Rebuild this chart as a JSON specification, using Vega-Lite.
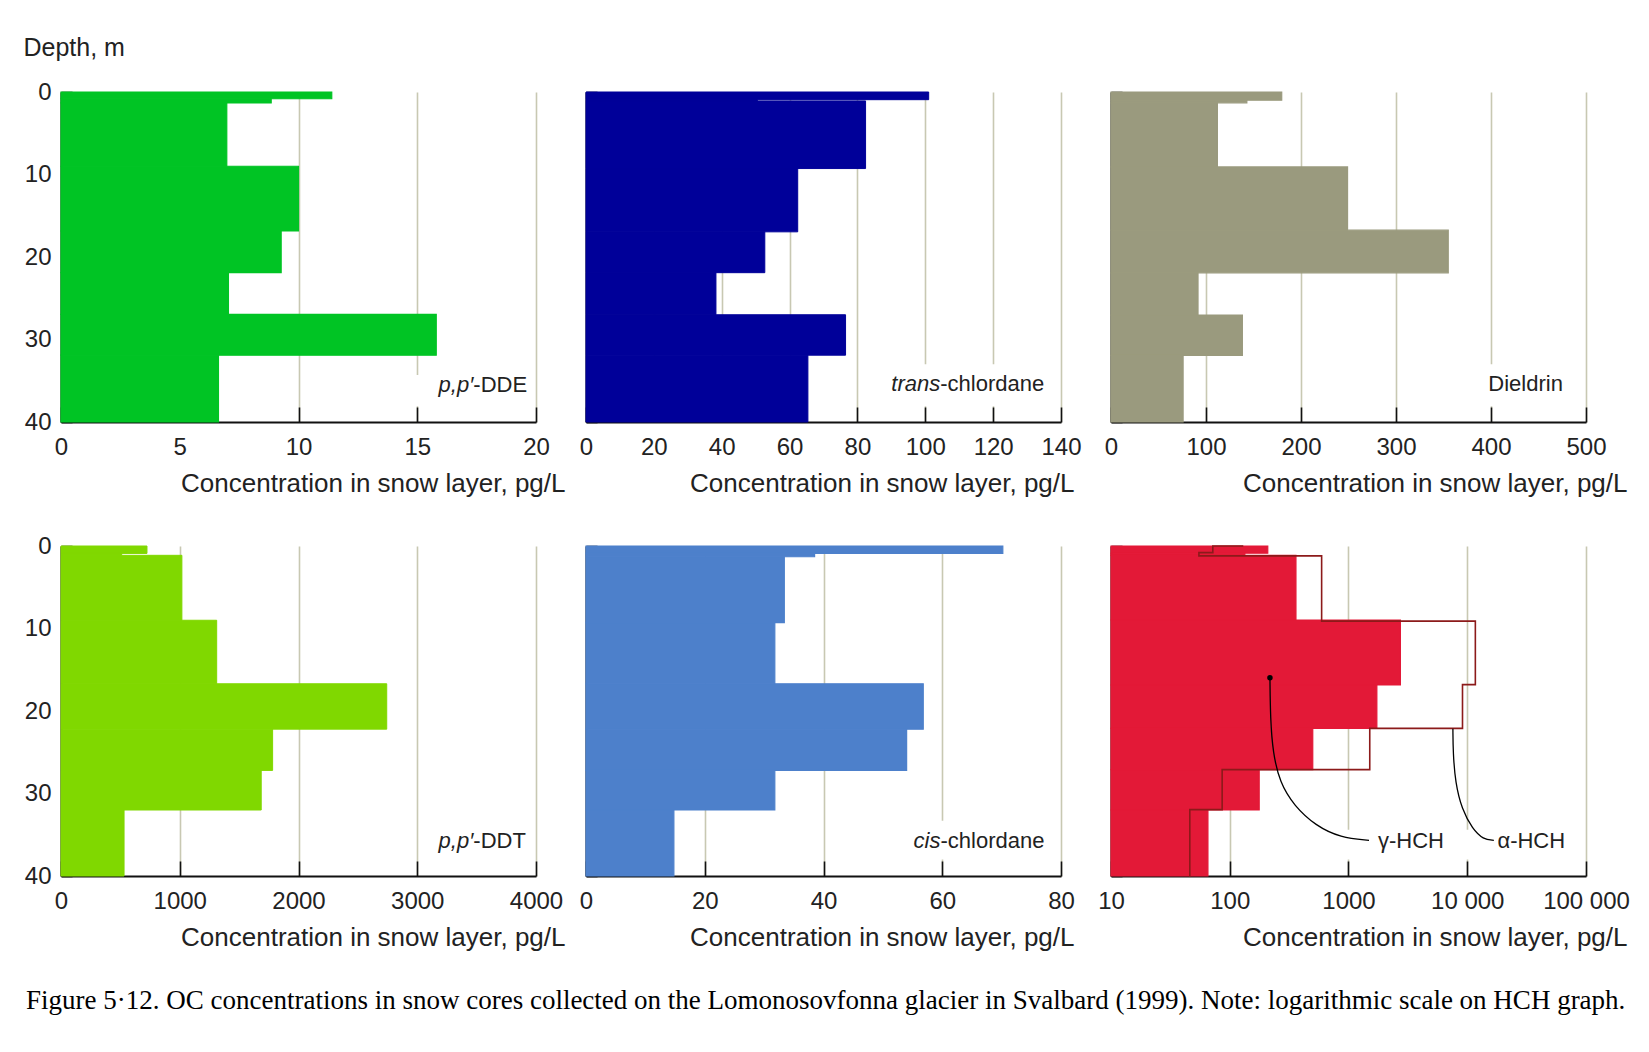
{
  "$schema": "https://vega.github.io/schema/vega-lite/v6.json",
  "background": "white",
  "padding": {"left": 23, "top": 35, "right": 5, "bottom": 5},
  "bounds": "flush",
  "columns": 3,
  "spacing": {"row": 124, "column": 50},
  "title": {
    "text": "Figure 5·12. OC concentrations in snow cores collected on the Lomonosovfonna glacier in Svalbard (1999). Note: logarithmic scale on HCH graph.",
    "orient": "bottom", "anchor": "start", "frame": "group", "dx": -35, "offset": 38,
    "font": "Liberation Serif", "fontSize": 27, "fontWeight": "normal", "color": "black"
  },
  "datasets": {
    "dde": [
      {"top": 0, "bottom": 0.82, "value": 11.4},
      {"top": 0.82, "bottom": 1.33, "value": 8.85},
      {"top": 1.33, "bottom": 9.0, "value": 6.98},
      {"top": 9.0, "bottom": 16.85, "value": 10.0},
      {"top": 16.85, "bottom": 21.9, "value": 9.27},
      {"top": 21.9, "bottom": 26.95, "value": 7.05},
      {"top": 26.95, "bottom": 31.9, "value": 15.8},
      {"top": 31.9, "bottom": 40, "value": 6.63}
    ],
    "trans": [
      {"top": 0, "bottom": 0.93, "value": 101},
      {"top": 0.93, "bottom": 1.08, "value": 50.5},
      {"top": 1.08, "bottom": 9.28, "value": 82.4},
      {"top": 9.28, "bottom": 16.95, "value": 62.4},
      {"top": 16.95, "bottom": 21.9, "value": 52.7},
      {"top": 21.9, "bottom": 27.0, "value": 38.3},
      {"top": 27.0, "bottom": 31.9, "value": 76.5},
      {"top": 31.9, "bottom": 40, "value": 65.4}
    ],
    "dieldrin": [
      {"top": 0, "bottom": 0.99, "value": 179.7},
      {"top": 0.99, "bottom": 1.31, "value": 143},
      {"top": 1.31, "bottom": 9.08, "value": 112},
      {"top": 9.08, "bottom": 16.75, "value": 249},
      {"top": 16.75, "bottom": 21.92, "value": 355},
      {"top": 21.92, "bottom": 27.04, "value": 91.6},
      {"top": 27.04, "bottom": 31.93, "value": 138.3},
      {"top": 31.93, "bottom": 40, "value": 75.9}
    ],
    "ddt": [
      {"top": 0, "bottom": 0.9, "value": 724},
      {"top": 0.9, "bottom": 1.13, "value": 511},
      {"top": 1.13, "bottom": 9.0, "value": 1018},
      {"top": 9.0, "bottom": 16.7, "value": 1311},
      {"top": 16.7, "bottom": 22.2, "value": 2743},
      {"top": 22.2, "bottom": 27.2, "value": 1782},
      {"top": 27.2, "bottom": 32.0, "value": 1686},
      {"top": 32.0, "bottom": 40, "value": 531}
    ],
    "cis": [
      {"top": 0, "bottom": 0.89, "value": 70.2},
      {"top": 0.89, "bottom": 1.3, "value": 38.5},
      {"top": 1.3, "bottom": 9.29, "value": 33.4},
      {"top": 9.29, "bottom": 16.7, "value": 31.8},
      {"top": 16.7, "bottom": 22.2, "value": 56.8},
      {"top": 22.2, "bottom": 27.2, "value": 54.0},
      {"top": 27.2, "bottom": 32.0, "value": 31.8},
      {"top": 32.0, "bottom": 40, "value": 14.8}
    ],
    "ghch": [
      {"top": 0, "bottom": 0.88, "value": 209},
      {"top": 0.88, "bottom": 1.13, "value": 134},
      {"top": 1.13, "bottom": 8.97, "value": 361},
      {"top": 8.97, "bottom": 16.85, "value": 2735},
      {"top": 16.85, "bottom": 22.1, "value": 1733},
      {"top": 22.1, "bottom": 27.1, "value": 500},
      {"top": 27.1, "bottom": 32.0, "value": 177},
      {"top": 32.0, "bottom": 40, "value": 65.5}
    ],
    "ahch": [
      {"seq": 1, "value": 128, "depth": 0},
      {"seq": 2, "value": 72, "depth": 0},
      {"seq": 3, "value": 72, "depth": 0.8},
      {"seq": 4, "value": 55, "depth": 0.8},
      {"seq": 5, "value": 55, "depth": 1.2},
      {"seq": 6, "value": 594, "depth": 1.2},
      {"seq": 7, "value": 594, "depth": 9.1},
      {"seq": 8, "value": 11700, "depth": 9.1},
      {"seq": 9, "value": 11700, "depth": 16.8},
      {"seq": 10, "value": 9120, "depth": 16.8},
      {"seq": 11, "value": 9120, "depth": 22.1},
      {"seq": 12, "value": 1510, "depth": 22.1},
      {"seq": 13, "value": 1510, "depth": 27.1},
      {"seq": 14, "value": 86.3, "depth": 27.1},
      {"seq": 15, "value": 86.3, "depth": 31.95},
      {"seq": 16, "value": 46.1, "depth": 31.95},
      {"seq": 17, "value": 46.1, "depth": 40}
    ],
    "leaders": [
      {"series": "g", "seq": 1, "value": 218, "depth": 15.96},
      {"series": "g", "seq": 2, "value": 220, "depth": 21.0},
      {"series": "g", "seq": 3, "value": 231, "depth": 25.05},
      {"series": "g", "seq": 4, "value": 264, "depth": 28.7},
      {"series": "g", "seq": 5, "value": 349, "depth": 31.5},
      {"series": "g", "seq": 6, "value": 528, "depth": 33.9},
      {"series": "g", "seq": 7, "value": 857, "depth": 35.35},
      {"series": "g", "seq": 8, "value": 1489, "depth": 35.68},
      {"series": "a", "seq": 1, "value": 7570, "depth": 22.14},
      {"series": "a", "seq": 2, "value": 7600, "depth": 25.05},
      {"series": "a", "seq": 3, "value": 7940, "depth": 28.69},
      {"series": "a", "seq": 4, "value": 9000, "depth": 31.9},
      {"series": "a", "seq": 5, "value": 11070, "depth": 34.3},
      {"series": "a", "seq": 6, "value": 13620, "depth": 35.56},
      {"series": "a", "seq": 7, "value": 16750, "depth": 35.68}
    ]
  },
  "concat": [
    {
      "width": 475, "height": 330,
      "layer": [
        {"data": {"name": "dde"}, "mark": {"type": "rect", "fill": "#00c424", "stroke": "#00c424", "strokeWidth": 1.2, "opacity": 1},
         "encoding": {
           "x": {"field": "value", "type": "quantitative", "scale": {"domain": [0, 20], "nice": false},
                 "axis": {"values": [0, 5, 10, 15, 20], "title": "Concentration in snow layer, pg/L", "titleX": 504}},
           "x2": {"datum": 0},
           "y": {"field": "top", "type": "quantitative", "scale": {"domain": [0, 40], "reverse": true, "nice": false},
                 "axis": {"values": [0, 10, 20, 30, 40], "labels": true, "title": "Depth, m", "titleX": -38, "titleY": -44.5, "titleAngle": 0, "titleAlign": "left", "titleBaseline": "middle", "titleFontSize": 25}},
           "y2": {"field": "bottom"}}},
        {"data": {"values": [{}]}, "mark": {"type": "rect", "color": "white"},
         "encoding": {"x": {"datum": 14.7}, "x2": {"datum": 19.8}, "y": {"datum": 34.3}, "y2": {"datum": 38.1}}},
        {"data": {"values": [{}]}, "mark": {"type": "text", "text": "p,p′", "fontStyle": "italic", "align": "right", "baseline": "alphabetic"},
         "encoding": {"x": {"datum": 17.36}, "y": {"datum": 36.4}}},
        {"data": {"values": [{}]}, "mark": {"type": "text", "text": "-DDE", "align": "left", "baseline": "alphabetic"},
         "encoding": {"x": {"datum": 17.36}, "y": {"datum": 36.4}}}
      ]
    },
    {
      "width": 475, "height": 330,
      "layer": [
        {"data": {"name": "trans"}, "mark": {"type": "rect", "fill": "#000099", "stroke": "#000099", "strokeWidth": 1, "opacity": 1},
         "encoding": {
           "x": {"field": "value", "type": "quantitative", "scale": {"domain": [0, 140], "nice": false},
                 "axis": {"values": [0, 20, 40, 60, 80, 100, 120, 140], "title": "Concentration in snow layer, pg/L", "titleX": 488}},
           "x2": {"datum": 0},
           "y": {"field": "top", "type": "quantitative", "scale": {"domain": [0, 40], "reverse": true, "nice": false},
                 "axis": {"values": [0, 10, 20, 30, 40], "labels": false, "title": null}},
           "y2": {"field": "bottom"}}},
        {"data": {"values": [{}]}, "mark": {"type": "rect", "color": "white"},
         "encoding": {"x": {"datum": 95}, "x2": {"datum": 137}, "y": {"datum": 33.0}, "y2": {"datum": 38.1}}},
        {"data": {"values": [{}]}, "mark": {"type": "text", "text": "trans", "fontStyle": "italic", "align": "right", "baseline": "alphabetic"},
         "encoding": {"x": {"datum": 104.4}, "y": {"datum": 36.2}}},
        {"data": {"values": [{}]}, "mark": {"type": "text", "text": "-chlordane", "align": "left", "baseline": "alphabetic"},
         "encoding": {"x": {"datum": 104.4}, "y": {"datum": 36.2}}}
      ]
    },
    {
      "width": 475, "height": 330,
      "layer": [
        {"data": {"name": "dieldrin"}, "mark": {"type": "rect", "fill": "#9a9a7e", "stroke": "#9a9a7e", "strokeWidth": 1.2, "opacity": 1},
         "encoding": {
           "x": {"field": "value", "type": "quantitative", "scale": {"domain": [0, 500], "nice": false},
                 "axis": {"values": [0, 100, 200, 300, 400, 500], "title": "Concentration in snow layer, pg/L", "titleX": 516}},
           "x2": {"datum": 0},
           "y": {"field": "top", "type": "quantitative", "scale": {"domain": [0, 40], "reverse": true, "nice": false},
                 "axis": {"values": [0, 10, 20, 30, 40], "labels": false, "title": null}},
           "y2": {"field": "bottom"}}},
        {"data": {"values": [{}]}, "mark": {"type": "rect", "color": "white"},
         "encoding": {"x": {"datum": 392}, "x2": {"datum": 490}, "y": {"datum": 33.0}, "y2": {"datum": 38.1}}},
        {"data": {"values": [{}]}, "mark": {"type": "text", "text": "Dieldrin", "align": "right", "baseline": "alphabetic"},
         "encoding": {"x": {"datum": 475.7}, "y": {"datum": 36.2}}}
      ]
    },
    {
      "width": 475, "height": 330,
      "layer": [
        {"data": {"name": "ddt"}, "mark": {"type": "rect", "fill": "#80d800", "stroke": "#80d800", "strokeWidth": 1, "opacity": 1},
         "encoding": {
           "x": {"field": "value", "type": "quantitative", "scale": {"domain": [0, 4000], "nice": false},
                 "axis": {"values": [0, 1000, 2000, 3000, 4000], "format": "d", "title": "Concentration in snow layer, pg/L", "titleX": 504}},
           "x2": {"datum": 0},
           "y": {"field": "top", "type": "quantitative", "scale": {"domain": [0, 40], "reverse": true, "nice": false},
                 "axis": {"values": [0, 10, 20, 30, 40], "labels": true, "title": null}},
           "y2": {"field": "bottom"}}},
        {"data": {"values": [{}]}, "mark": {"type": "text", "text": "p,p′", "fontStyle": "italic", "align": "right", "baseline": "alphabetic"},
         "encoding": {"x": {"datum": 3472}, "y": {"datum": 36.6}}},
        {"data": {"values": [{}]}, "mark": {"type": "text", "text": "-DDT", "align": "left", "baseline": "alphabetic"},
         "encoding": {"x": {"datum": 3472}, "y": {"datum": 36.6}}}
      ]
    },
    {
      "width": 475, "height": 330,
      "layer": [
        {"data": {"name": "cis"}, "mark": {"type": "rect", "fill": "#4d80cb", "stroke": "#4d80cb", "strokeWidth": 1.2, "opacity": 1},
         "encoding": {
           "x": {"field": "value", "type": "quantitative", "scale": {"domain": [0, 80], "nice": false},
                 "axis": {"values": [0, 20, 40, 60, 80], "title": "Concentration in snow layer, pg/L", "titleX": 488}},
           "x2": {"datum": 0},
           "y": {"field": "top", "type": "quantitative", "scale": {"domain": [0, 40], "reverse": true, "nice": false},
                 "axis": {"values": [0, 10, 20, 30, 40], "labels": false, "title": null}},
           "y2": {"field": "bottom"}}},
        {"data": {"values": [{}]}, "mark": {"type": "rect", "color": "white"},
         "encoding": {"x": {"datum": 54}, "x2": {"datum": 79}, "y": {"datum": 33.3}, "y2": {"datum": 38.0}}},
        {"data": {"values": [{}]}, "mark": {"type": "text", "text": "cis", "fontStyle": "italic", "align": "right", "baseline": "alphabetic"},
         "encoding": {"x": {"datum": 59.7}, "y": {"datum": 36.6}}},
        {"data": {"values": [{}]}, "mark": {"type": "text", "text": "-chlordane", "align": "left", "baseline": "alphabetic"},
         "encoding": {"x": {"datum": 59.7}, "y": {"datum": 36.6}}}
      ]
    },
    {
      "width": 475, "height": 330,
      "layer": [
        {"data": {"name": "ghch"}, "mark": {"type": "rect", "fill": "#e31937", "stroke": "#e31937", "strokeWidth": 1.2, "opacity": 1},
         "encoding": {
           "x": {"field": "value", "type": "quantitative", "scale": {"type": "log", "domain": [10, 100000], "nice": false},
                 "axis": {"values": [10, 100, 1000, 10000, 100000], "labelExpr": "datum.value == 10000 ? '10 000' : datum.value == 100000 ? '100 000' : format(datum.value, 'd')", "title": "Concentration in snow layer, pg/L", "titleX": 516}},
           "x2": {"datum": 10},
           "y": {"field": "top", "type": "quantitative", "scale": {"domain": [0, 40], "reverse": true, "nice": false},
                 "axis": {"values": [0, 10, 20, 30, 40], "labels": false, "title": null}},
           "y2": {"field": "bottom"}}},
        {"data": {"name": "ahch"}, "mark": {"type": "line", "color": "#8c1a1a", "strokeWidth": 1.6, "strokeCap": "square"},
         "encoding": {"x": {"field": "value", "type": "quantitative"}, "y": {"field": "depth", "type": "quantitative"}, "order": {"field": "seq"}}},
        {"data": {"values": [{}]}, "mark": {"type": "rect", "color": "white"},
         "encoding": {"x": {"datum": 800}, "x2": {"datum": 50000}, "y": {"datum": 34.4}, "y2": {"datum": 38.0}}},
        {"data": {"name": "leaders"}, "mark": {"type": "line", "color": "black", "strokeWidth": 1.3, "interpolate": "basis"},
         "encoding": {"x": {"field": "value", "type": "quantitative"}, "y": {"field": "depth", "type": "quantitative"}, "detail": {"field": "series"}, "order": {"field": "seq"}}},
        {"data": {"values": [{}]}, "mark": {"type": "point", "filled": true, "color": "black", "size": 30, "opacity": 1},
         "encoding": {"x": {"datum": 218}, "y": {"datum": 15.96}}},
        {"data": {"values": [{}]}, "mark": {"type": "text", "text": "γ-HCH", "align": "left", "baseline": "middle"},
         "encoding": {"x": {"datum": 1770}, "y": {"datum": 35.7}}},
        {"data": {"values": [{}]}, "mark": {"type": "text", "text": "α-HCH", "align": "left", "baseline": "middle"},
         "encoding": {"x": {"datum": 17950}, "y": {"datum": 35.7}}}
      ]
    }
  ],
  "config": {
    "view": {"stroke": null},
    "text": {"font": "Liberation Sans", "fontSize": 22, "color": "#222222"},
    "axis": {
      "domainColor": "#111111", "domainWidth": 2, "tickColor": "#111111", "tickWidth": 1.6,
      "labelFont": "Liberation Sans", "labelFontSize": 24, "labelColor": "#222222",
      "titleFont": "Liberation Sans", "titleFontSize": 26, "titleFontWeight": "normal", "titleColor": "#222222",
      "gridColor": "#c8c8b2", "gridWidth": 1.6, "gridOpacity": 1
    },
    "axisX": {"grid": true, "tickSize": -15, "labelFlush": false, "labelPadding": 40, "labelBaseline": "middle", "titleY": 61, "titleBaseline": "middle", "titleAlign": "right", "titlePadding": 0},
    "axisY": {"grid": false, "tickSize": -11, "labelPadding": 21, "labelBaseline": "middle"}
  }
}
